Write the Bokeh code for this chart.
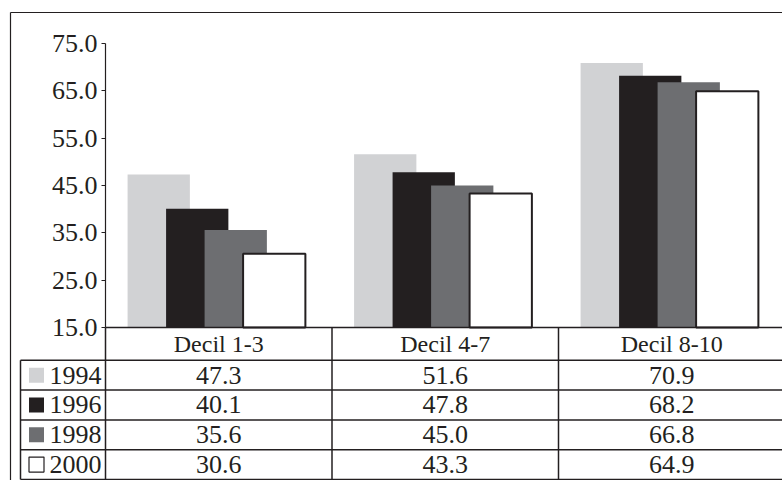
from bokeh.plotting import figure
from bokeh.models import Range1d, LinearAxis, FixedTicker, PrintfTickFormatter, ColumnDataSource
from bokeh.core.properties import value
from bokeh.embed import file_html
from bokeh.resources import INLINE

# ---- data ----
categories = ["Decil 1-3", "Decil 4-7", "Decil 8-10"]
years = ["1994", "1996", "1998", "2000"]
v1994 = [47.3, 51.6, 70.9]
v1996 = [40.1, 47.8, 68.2]
v1998 = [35.6, 45.0, 66.8]
v2000 = [30.6, 43.3, 64.9]
y_ticks = [15, 25, 35, 45, 55, 65, 75]

series = [v1994, v1996, v1998, v2000]
fills = ["#d1d2d4", "#231f20", "#6d6e71", "#ffffff"]
INK = "#231f20"
FONT = value("Liberation Serif")

# ---- layout constants ----
W, H = 782, 480
X0 = 105          # px where category axis starts
KX = 226.5        # px per category
Y_BASE_PX = 327   # px of value 15
KY = 4.733        # px per value unit
T_PX = 29.8       # px per table row
HEADER = 1.1      # header row height (rows)
T_BOT = HEADER + len(years)
BASE = 15

p = figure(width=W, height=H, output_backend="svg", toolbar_location=None,
           x_range=Range1d(-X0 / KX, (W - X0) / KX),
           y_range=Range1d(BASE - (H - Y_BASE_PX) / KY, BASE + Y_BASE_PX / KY),
           x_axis_location=None, y_axis_location=None, min_border=0)
p.extra_x_ranges = {"px": Range1d(0, W)}
p.extra_y_ranges = {"py": Range1d(H, 0),
                    "table": Range1d(T_BOT + (H - 479) / T_PX, -Y_BASE_PX / T_PX)}
p.outline_line_color = None
p.background_fill_color = "white"
p.border_fill_color = "white"
p.grid.grid_line_color = None
p.grid.visible = False

# ---- bars ----
for j, (vals, fill) in enumerate(zip(series, fills)):
    xs = [i + 0.5 + (j - 1.5) * 0.17 - 0.01 for i in range(len(categories))]
    p.vbar(x=xs, top=vals, bottom=BASE, width=0.275, fill_color=fill,
           line_color=INK if j == 3 else None, line_width=2)

# ---- y axis ----
ax = LinearAxis(fixed_location=0, bounds=(y_ticks[0], y_ticks[-1]),
                ticker=FixedTicker(ticks=y_ticks),
                formatter=PrintfTickFormatter(format="%.1f"),
                major_label_text_font="Liberation Serif",
                major_label_text_font_size="26px",
                major_label_text_color=INK,
                major_tick_in=0, major_tick_out=4, minor_tick_line_color=None,
                axis_line_color=INK, axis_line_width=1.2,
                major_tick_line_color=INK, major_label_standoff=4)
p.add_layout(ax, "left")

# ---- outer frame ----
p.segment(x0=[10, 10], y0=[12, 12], x1=[W, 10], y1=[12, H],
          x_range_name="px", y_range_name="py", line_color=INK, line_width=1.2)

# ---- table lines ----
row_lines = [HEADER + r for r in range(len(years) + 1)]
p.segment(x0=[20] * len(row_lines), y0=row_lines, x1=[W] * len(row_lines), y1=row_lines,
          x_range_name="px", y_range_name="table", line_color=INK, line_width=1.5)
p.segment(x0=[20], y0=[HEADER], x1=[20], y1=[T_BOT],
          x_range_name="px", y_range_name="table", line_color=INK, line_width=1.5)
p.segment(x0=[0, 1, 2], y0=[0, 0, 0], x1=[0, 1, 2], y1=[T_BOT] * 3,
          y_range_name="table", line_color=INK, line_width=1.5)
p.segment(x0=[0], y0=[BASE], x1=[3], y1=[BASE], line_color=INK, line_width=1.5)

# ---- table texts ----
p.text(x=[i + 0.5 for i in range(len(categories))], y=[HEADER / 2] * len(categories),
       text=categories, y_range_name="table", text_font=FONT, text_font_size="24px",
       text_color=INK, text_align="center", text_baseline="middle")

vx, vy, vt = [], [], []
for j, vals in enumerate(series):
    for i, v in enumerate(vals):
        vx.append(i + 0.5)
        vy.append(HEADER + j + 0.5)
        vt.append("%.1f" % v)
p.text(x=vx, y=vy, text=vt, y_range_name="table", text_font=FONT, text_font_size="26px",
       text_color=INK, text_align="center", text_baseline="middle")

row_y = [HEADER + j + 0.5 for j in range(len(years))]
p.text(x=[101] * len(years), y=row_y, text=years, x_range_name="px", y_range_name="table",
       text_font=FONT, text_font_size="26px", text_color=INK,
       text_align="right", text_baseline="middle")

leg = ColumnDataSource(dict(x=[36] * len(years), y=row_y, fill=fills,
                            line=["#ffffff00"] * 3 + [INK]))
p.scatter(x="x", y="y", source=leg, marker="square", size=15, fill_color="fill",
          line_color="line", line_width=1.2, x_range_name="px", y_range_name="table")

open("out.html", "w").write(file_html(p, INLINE))
